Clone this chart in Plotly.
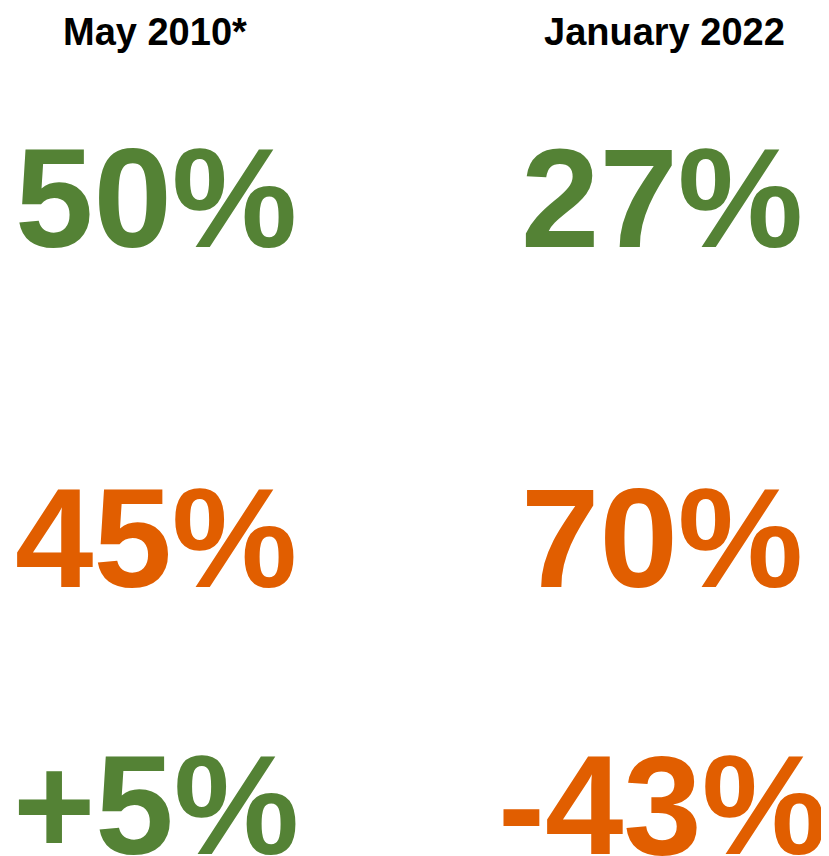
import plotly.graph_objects as go

periods = ["May 2010*", "January 2022"]
row_labels = ["share A", "share B", "net"]
may_2010 = ["50%", "45%", "+5%"]
jan_2022 = ["27%", "70%", "-43%"]
may_2010_colors = ["#548235", "#E15E00", "#548235"]
jan_2022_colors = ["#548235", "#E15E00", "#E15E00"]

W, H = 829, 856
col_x = [148, 654]
head_x = [147, 656]
head_y = 24
row_y = [190, 530, 797]
FONT = "Liberation Sans, Arial, sans-serif"

fig = go.Figure()
anns = []
for ci, (period, vals, cols) in enumerate(zip(periods, [may_2010, jan_2022], [may_2010_colors, jan_2022_colors])):
    anns.append(dict(text=f"<b>{period}</b>", x=head_x[ci] / W, y=1 - head_y / H,
                     xref="paper", yref="paper", showarrow=False,
                     xanchor="center", yanchor="middle",
                     font=dict(family=FONT, size=38, color="#000000")))
    for ri, (v, c) in enumerate(zip(vals, cols)):
        anns.append(dict(text=f"<b>{v}</b>", x=col_x[ci] / W, y=1 - row_y[ri] / H,
                         xref="paper", yref="paper", showarrow=False,
                         xanchor="center", yanchor="middle",
                         font=dict(family=FONT, size=141, color=c)))

fig.update_layout(width=W, height=H, margin=dict(l=0, r=0, t=0, b=0),
                  paper_bgcolor="white", plot_bgcolor="white",
                  xaxis=dict(visible=False), yaxis=dict(visible=False),
                  annotations=anns, showlegend=False)
fig.write_html("out.html")
